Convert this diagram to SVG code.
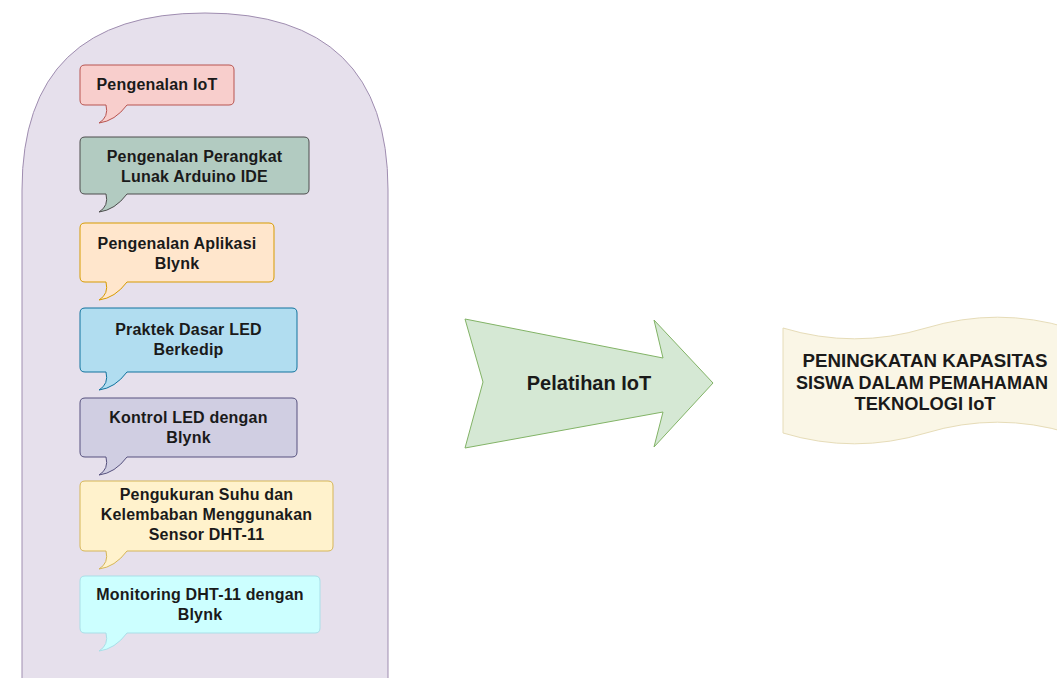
<svg xmlns="http://www.w3.org/2000/svg" width="1057" height="678" viewBox="0 0 1057 678">
<style>
  text { font-family: "Liberation Sans", Arial, sans-serif; font-weight: bold; fill: #1a1a1a; text-anchor: middle; }
  .c { font-size: 16px; letter-spacing: 0.2px; }
  .big { font-size: 20px; }
  .out { font-size: 18.5px; }
</style>
<rect width="1057" height="678" fill="#ffffff"/>
<g id="panel">
  <path d="M22,682 L22,190 Q22,13 205,13 Q388,13 388,190 L388,682" fill="#e6e0ec" stroke="#9f8db0" stroke-width="1"/>
</g>
<g id="n1">
  <path d="M85,65 H229 Q234,65 234,70 V100 Q234,105 229,105 H127 Q115,121 99,123 Q109,117 106,105 H85 Q80,105 80,100 V70 Q80,65 85,65 Z" fill="#f8cecc" stroke="#b85450"/>
  <text class="c" x="157" y="90">Pengenalan IoT</text>
</g>
<g id="n2">
  <path d="M85,137 H304 Q309,137 309,142 V189 Q309,194 304,194 H127 Q115,210 99,212 Q109,206 106,194 H85 Q80,194 80,189 V142 Q80,137 85,137 Z" fill="#b2cbc1" stroke="#4d4d4d"/>
  <text class="c" x="194.5" y="162">Pengenalan Perangkat</text>
  <text class="c" x="194.5" y="182">Lunak Arduino IDE</text>
</g>
<g id="n3">
  <path d="M85,223 H269 Q274,223 274,228 V277 Q274,282 269,282 H127 Q115,298 99,300 Q109,294 106,282 H85 Q80,282 80,277 V228 Q80,223 85,223 Z" fill="#ffe6cc" stroke="#d79b00"/>
  <text class="c" x="177" y="249">Pengenalan Aplikasi</text>
  <text class="c" x="177" y="269">Blynk</text>
</g>
<g id="n4">
  <path d="M85,308 H292 Q297,308 297,313 V367 Q297,372 292,372 H127 Q115,388 99,390 Q109,384 106,372 H85 Q80,372 80,367 V313 Q80,308 85,308 Z" fill="#b1ddf0" stroke="#10739e"/>
  <text class="c" x="188.5" y="335">Praktek Dasar LED</text>
  <text class="c" x="188.5" y="355">Berkedip</text>
</g>
<g id="n5">
  <path d="M85,398 H292 Q297,398 297,403 V452 Q297,457 292,457 H127 Q115,473 99,475 Q109,469 106,457 H85 Q80,457 80,452 V403 Q80,398 85,398 Z" fill="#d0cee2" stroke="#56517e"/>
  <text class="c" x="188.5" y="423">Kontrol LED dengan</text>
  <text class="c" x="188.5" y="443">Blynk</text>
</g>
<g id="n6">
  <path d="M85,481 H328 Q333,481 333,486 V546 Q333,551 328,551 H127 Q115,567 99,569 Q109,563 106,551 H85 Q80,551 80,546 V486 Q80,481 85,481 Z" fill="#fff2cc" stroke="#d6b656"/>
  <text class="c" x="206.5" y="500">Pengukuran Suhu dan</text>
  <text class="c" x="206.5" y="520">Kelembaban Menggunakan</text>
  <text class="c" x="206.5" y="540">Sensor DHT-11</text>
</g>
<g id="n7">
  <path d="M85,576 H315 Q320,576 320,581 V628 Q320,633 315,633 H127 Q115,649 99,651 Q109,645 106,633 H85 Q80,633 80,628 V581 Q80,576 85,576 Z" fill="#ccffff" stroke="#a9dfe8"/>
  <text class="c" x="200" y="600">Monitoring DHT-11 dengan</text>
  <text class="c" x="200" y="620">Blynk</text>
</g>
<g id="arrow">
  <polygon points="465,319 663,358 654,320 713,383 654,447 663,412 465,448 483,382" fill="#d5e8d4" stroke="#82b366"/>
  <text class="big" x="589" y="390">Pelatihan IoT</text>
</g>
<g id="result">
  <path d="M783,328 Q854.5,349.6 926,328 Q997.5,306.4 1069,328 L1069,433 Q997.5,411.4 926,433 Q854.5,454.6 783,433 Z" fill="#faf6e6" stroke="#e6dcb8"/>
  <text class="out" x="925" y="367" textLength="245" lengthAdjust="spacingAndGlyphs">PENINGKATAN KAPASITAS</text>
  <text class="out" x="922" y="389" style="font-size:18px" textLength="252" lengthAdjust="spacingAndGlyphs">SISWA DALAM PEMAHAMAN</text>
  <text class="out" x="925" y="410" textLength="141" lengthAdjust="spacingAndGlyphs">TEKNOLOGI IoT</text>
</g>
<g id="connectors"></g>
</svg>
